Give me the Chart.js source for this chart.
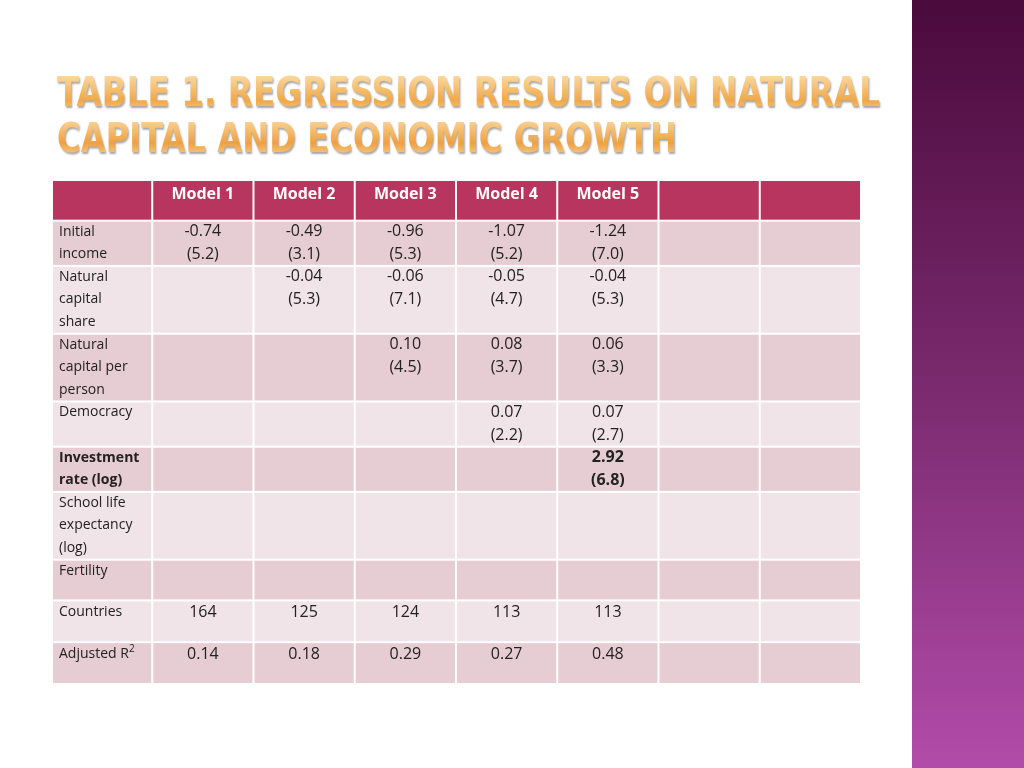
<!DOCTYPE html>
<html>
<head>
<meta charset="utf-8">
<script src="https://cdn.jsdelivr.net/npm/chart.js@4"></script>
<style>
  html, body { margin: 0; padding: 0; background: #fff; }
  #wrap { width: 1024px; height: 768px; position: relative; }
</style>
</head>
<body>
<div id="wrap"><canvas id="table"></canvas></div>
<script>
// Table content
const models = ["Model 1", "Model 2", "Model 3", "Model 4", "Model 5", "", ""];
const rowLabels = [
  ["Initial", "income"],
  ["Natural", "capital", "share"],
  ["Natural", "capital per", "person"],
  ["Democracy"],
  ["Investment", "rate (log)"],
  ["School life", "expectancy", "(log)"],
  ["Fertility"],
  ["Countries"],
  ["Adjusted R²"]
];
const coefs = [
  ["-0.74", "-0.49", "-0.96", "-1.07", "-1.24"],
  ["", "-0.04", "-0.06", "-0.05", "-0.04"],
  ["", "", "0.10", "0.08", "0.06"],
  ["", "", "", "0.07", "0.07"],
  ["", "", "", "", "2.92"],
  ["", "", "", "", ""],
  ["", "", "", "", ""],
  ["164", "125", "124", "113", "113"],
  ["0.14", "0.18", "0.29", "0.27", "0.48"]
];
const tstats = [
  ["(5.2)", "(3.1)", "(5.3)", "(5.2)", "(7.0)"],
  ["", "(5.3)", "(7.1)", "(4.7)", "(5.3)"],
  ["", "", "(4.5)", "(3.7)", "(3.3)"],
  ["", "", "", "(2.2)", "(2.7)"],
  ["", "", "", "", "(6.8)"],
  ["", "", "", "", ""],
  ["", "", "", "", ""],
  ["", "", "", "", ""],
  ["", "", "", "", ""]
];
const boldRows = [4];
// row heights in text lines (header first)
const rowUnits = [1.8, 2, 3, 3, 2, 2, 3, 1.8, 1.85, 1.85];
const colUnits = [0.99, 1, 1, 1, 1, 1, 1, 1];

const rowEdges = [0];
rowUnits.forEach(u => rowEdges.push(rowEdges[rowEdges.length - 1] + u));
const colEdges = [0];
colUnits.forEach(u => colEdges.push(colEdges[colEdges.length - 1] + u));

const FONT = '"Open Sans", "Liberation Sans", sans-serif';

const tablePlugin = {
  id: "tablePlugin",
  beforeDraw(chart) {
    const ctx = chart.ctx;
    const W = chart.width, H = chart.height;
    ctx.save();
    ctx.fillStyle = "#fff";
    ctx.fillRect(0, 0, W, H);
    // purple band on the right
    const g = ctx.createLinearGradient(0, 0, 0, H);
    g.addColorStop(0, "#4a0a3c");
    g.addColorStop(0.5, "#7a2a6e");
    g.addColorStop(1, "#b24caa");
    ctx.fillStyle = g;
    ctx.fillRect(912, 0, W - 912, H);
    // title
    const tg = ctx.createLinearGradient(0, 75, 0, 160);
    tg.addColorStop(0, "#fbd9a0");
    tg.addColorStop(0.3, "#f0a848");
    tg.addColorStop(0.5, "#fbd9a0");
    tg.addColorStop(0.8, "#eea040");
    tg.addColorStop(1, "#fbd9a0");
    ctx.font = 'bold 40px "DejaVu Sans Condensed", sans-serif';
    ctx.textBaseline = "middle";
    ctx.textAlign = "left";
    ctx.shadowColor = "rgba(0,0,0,0.35)";
    ctx.shadowOffsetX = 1; ctx.shadowOffsetY = 2; ctx.shadowBlur = 2;
    ctx.fillStyle = tg;
    ctx.fillText("TABLE 1. REGRESSION RESULTS ON NATURAL", 57, 96, 823);
    ctx.fillText("CAPITAL AND ECONOMIC GROWTH", 57, 142, 620);
    ctx.restore();
  },
  afterDatasetsDraw(chart) {
    const ctx = chart.ctx;
    const xs = chart.scales.x, ys = chart.scales.y;
    const px = v => xs.getPixelForValue(v);
    const py = v => ys.getPixelForValue(v);
    const unit = py(1) - py(0);
    ctx.save();
    for (let r = 0; r < rowUnits.length; r++) {
      const top = py(rowEdges[r]), bot = py(rowEdges[r + 1]);
      let fill = r === 0 ? "#b8355f" : (r % 2 === 1 ? "#e6ccd3" : "#f1e4e8");
      for (let c = 0; c < colUnits.length; c++) {
        const left = px(colEdges[c]), right = px(colEdges[c + 1]);
        ctx.fillStyle = fill;
        ctx.fillRect(left + 1, top + 1, right - left - 2, bot - top - 2);
      }
      ctx.textBaseline = "middle";
      if (r === 0) {
        ctx.fillStyle = "#fff";
        ctx.font = "bold 16px " + FONT;
        ctx.textAlign = "center";
        models.forEach((m, i) => {
          ctx.fillText(m, (px(colEdges[i + 1]) + px(colEdges[i + 2])) / 2, top + 14);
        });
        continue;
      }
      const k = r - 1;
      const bold = boldRows.includes(k);
      const single = rowUnits[r] < 1.9 && k >= 7;
      const firstY = top + (single ? 12 : 11);
      ctx.fillStyle = "#222";
      ctx.textAlign = "left";
      ctx.font = (bold ? "bold " : "") + "14px " + FONT;
      rowLabels[k].forEach((t, j) => {
        if (t.endsWith("R²")) {
          ctx.fillText("Adjusted R", px(0) + 7, firstY + j * unit);
          const w = ctx.measureText("Adjusted R").width;
          ctx.font = "10px " + FONT;
          ctx.fillText("2", px(0) + 7 + w, firstY - 5);
          ctx.font = "14px " + FONT;
        } else {
          ctx.fillText(t, px(0) + 7, firstY + j * unit);
        }
      });
      ctx.textAlign = "center";
      ctx.font = (bold ? "bold " : "") + "16px " + FONT;
      for (let i = 0; i < 5; i++) {
        const cx = (px(colEdges[i + 1]) + px(colEdges[i + 2])) / 2;
        if (coefs[k][i]) ctx.fillText(coefs[k][i], cx, firstY);
        if (tstats[k][i]) ctx.fillText(tstats[k][i], cx, firstY + unit);
      }
    }
    ctx.restore();
  }
};

new Chart(document.getElementById("table"), {
  type: "scatter",
  data: { datasets: [{ data: [], pointRadius: 0 }] },
  options: {
    responsive: true,
    maintainAspectRatio: false,
    animation: false,
    layout: { padding: { left: 52, right: 163, top: 180, bottom: 84 } },
    plugins: { legend: { display: false }, tooltip: { enabled: false } },
    scales: {
      x: { type: "linear", min: 0, max: colEdges[colEdges.length - 1], display: false },
      y: { type: "linear", min: 0, max: rowEdges[rowEdges.length - 1], reverse: true, display: false }
    }
  },
  plugins: [tablePlugin]
});
</script>
</body>
</html>
